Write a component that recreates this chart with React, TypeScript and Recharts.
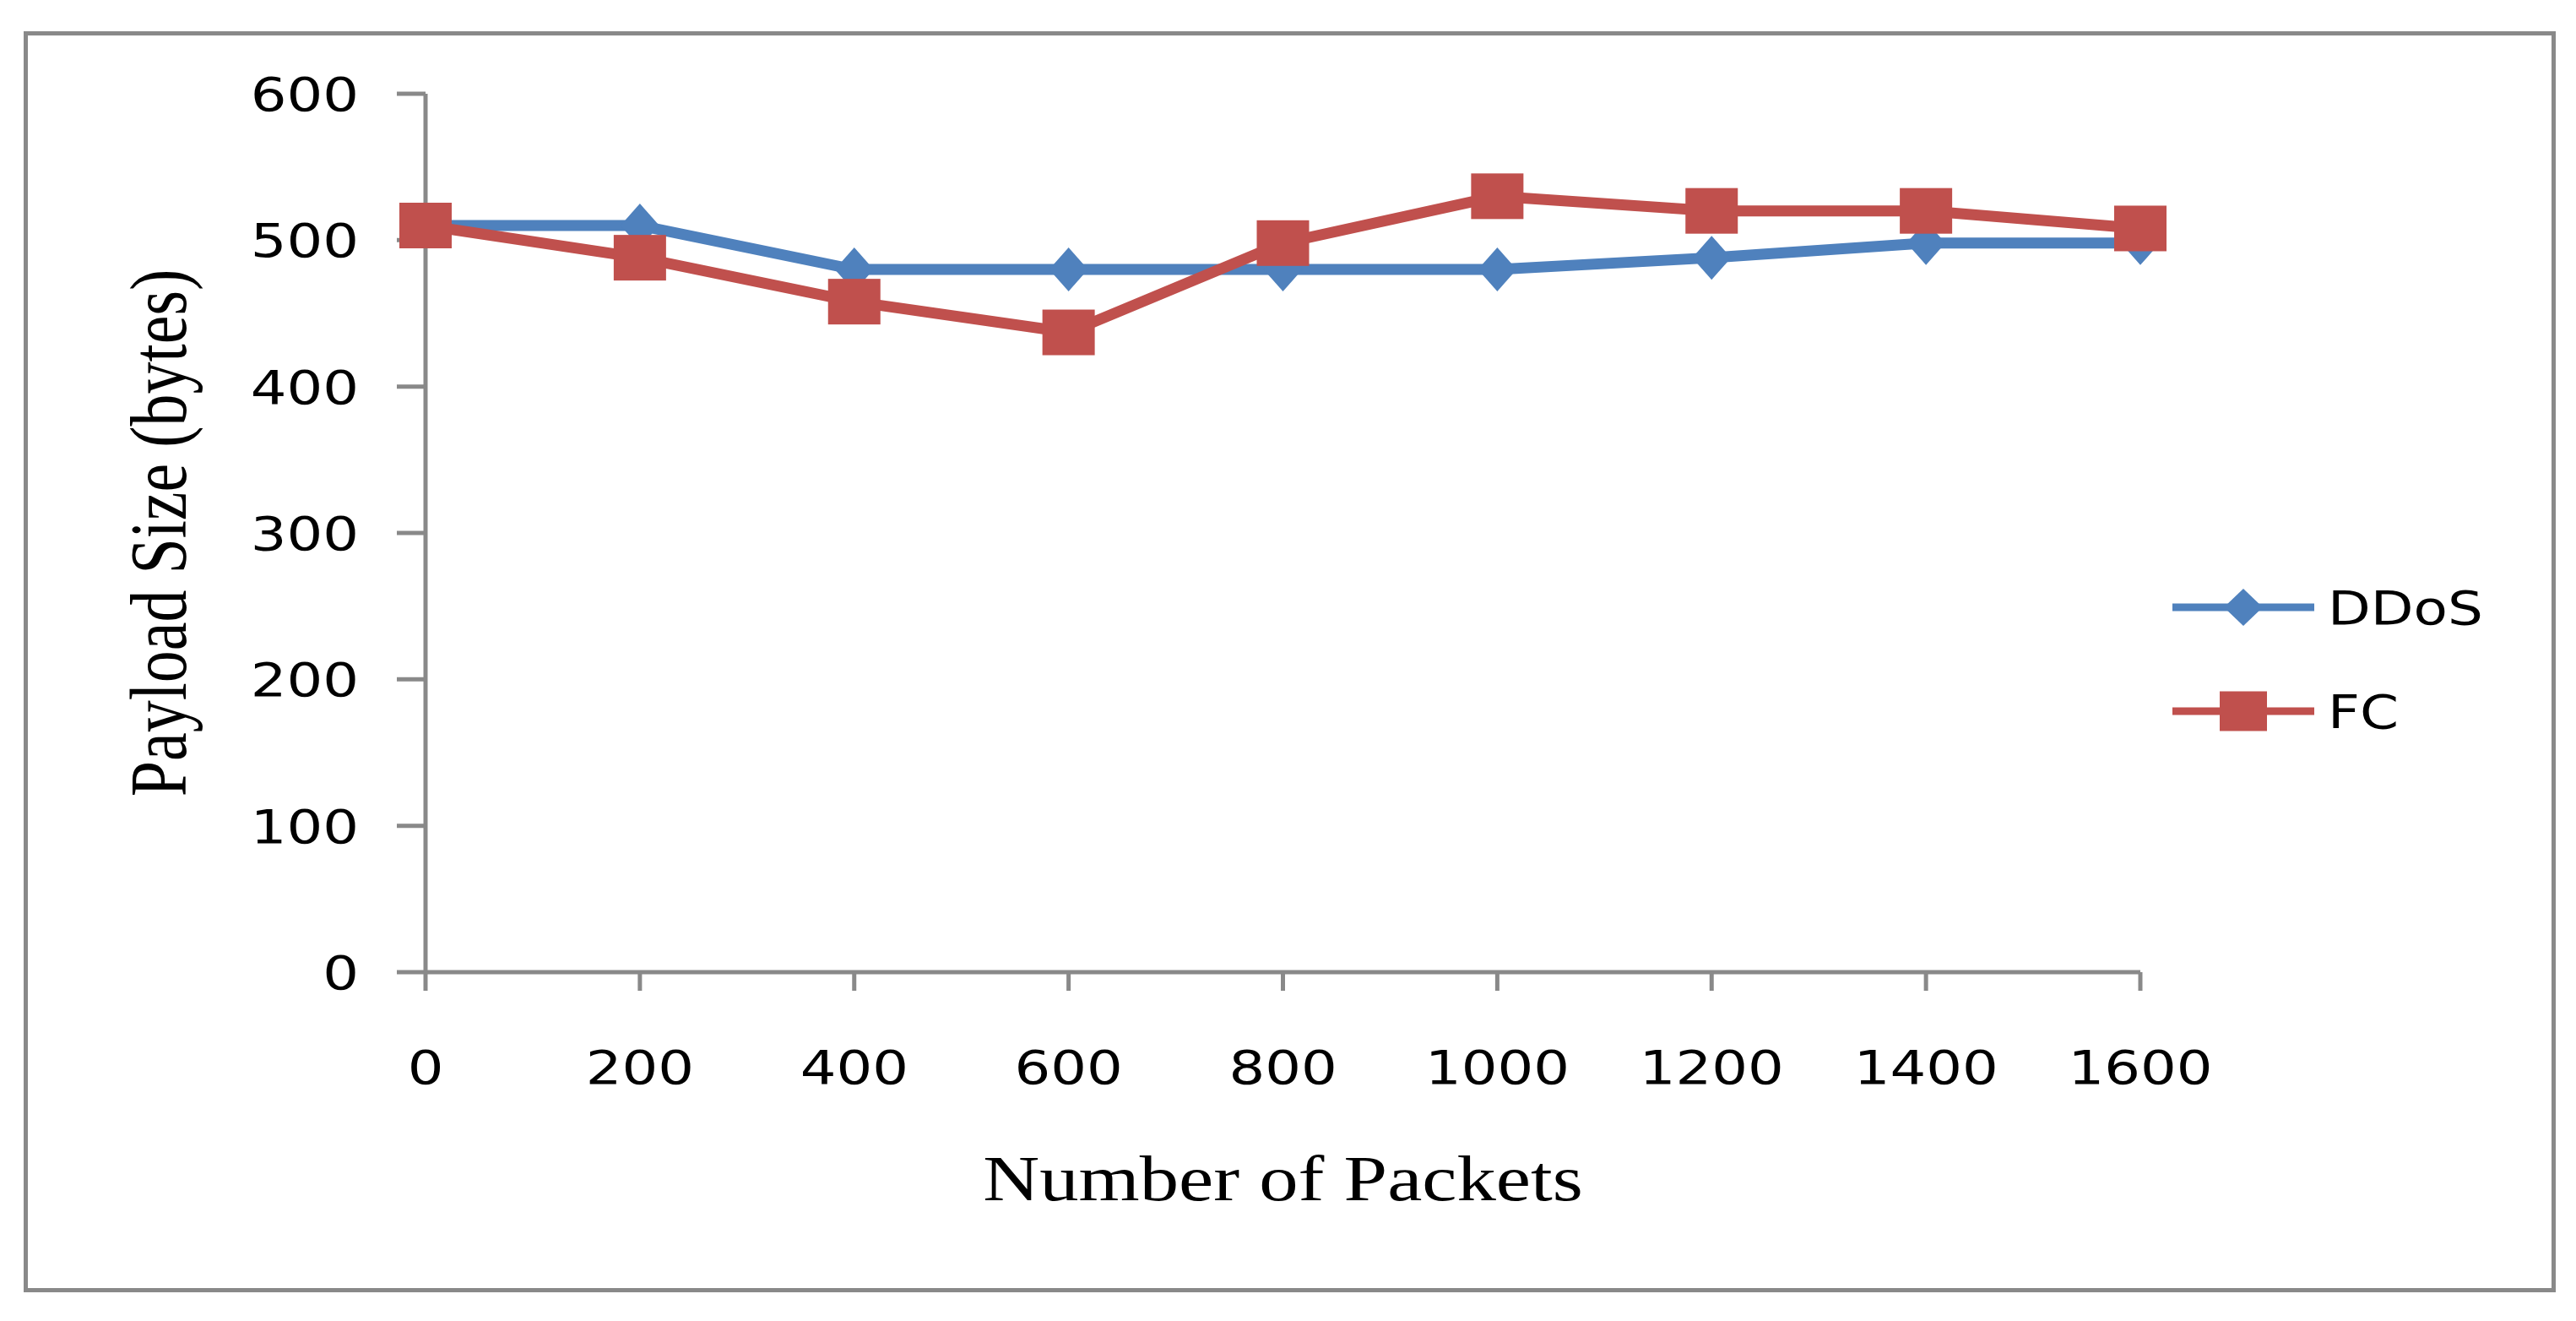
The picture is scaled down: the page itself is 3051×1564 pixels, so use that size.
import { LineChart, Line, XAxis, YAxis, Legend } from 'recharts';

// values
const packets = [0, 200, 400, 600, 800, 1000, 1200, 1400, 1600];
const ddosPayload = [510, 510, 480, 480, 480, 480, 488, 498, 498];
const fcPayload = [510, 488, 458, 437, 498, 530, 520, 520, 508];
const xTicks = [0, 200, 400, 600, 800, 1000, 1200, 1400, 1600];
const yTicks = [0, 100, 200, 300, 400, 500, 600];
const seriesNames = ['DDoS', 'FC'];

const BLUE = '#4F81BD';
const RED = '#C0504D';
const AXIS = '#898989';
const TICK_FONT = '"DejaVu Sans", Verdana, sans-serif';
const TITLE_FONT = '"Liberation Serif", "Times New Roman", serif';
const STRETCH = 1.2; // the original picture is a little wide

const data = packets.map((p, i) => ({ packets: p, ddos: ddosPayload[i], fc: fcPayload[i] }));

const Diamond = ({ cx, cy, fill, hw = 23, hh = 26 }: any) => (
  <polygon points={`${cx},${cy - hh} ${cx + hw},${cy} ${cx},${cy + hh} ${cx - hw},${cy}`} fill={fill} />
);

const Square = ({ cx, cy, fill, w = 62, h = 54 }: any) => (
  <rect x={cx - w / 2} y={cy - h / 2} width={w} height={h} fill={fill} />
);

const renderDiamond = (props: any) => <Diamond key={`dd-${props.index}`} cx={props.cx} cy={props.cy} fill={BLUE} />;
const renderSquare = (props: any) => <Square key={`fc-${props.index}`} cx={props.cx} cy={props.cy} fill={RED} />;

const YTick = ({ x, y, payload }: any) => (
  <text
    transform={`translate(${x},${y + 20}) scale(${STRETCH},1)`}
    textAnchor="end"
    fontFamily={TICK_FONT}
    fontSize={56}
    fill="#000"
  >
    {payload.value}
  </text>
);

const XTick = ({ x, y, payload }: any) => (
  <text
    transform={`translate(${x},${y + 41}) scale(${STRETCH},1)`}
    textAnchor="middle"
    fontFamily={TICK_FONT}
    fontSize={56}
    fill="#000"
  >
    {payload.value}
  </text>
);

const XTitle = ({ viewBox }: any) => (
  <text
    transform={`translate(${viewBox.x + viewBox.width / 2},${viewBox.y + 270}) scale(1.22,1)`}
    textAnchor="middle"
    fontFamily={TITLE_FONT}
    fontSize={76}
    fill="#000"
  >
    Number of Packets
  </text>
);

const YTitle = ({ viewBox }: any) => (
  <text
    transform={`translate(220,${viewBox.y + viewBox.height / 2}) scale(1.24,1) rotate(-90)`}
    textAnchor="middle"
    fontFamily={TITLE_FONT}
    fontSize={76}
    fill="#000"
  >
    Payload Size (bytes)
  </text>
);

const renderLegend = () => (
  <svg width={440} height={240}>
    <line x1={13} x2={181} y1={59} y2={59} stroke={BLUE} strokeWidth={9} />
    <Diamond cx={97} cy={59} fill={BLUE} hw={23} hh={22} />
    <text transform={`translate(197,79) scale(${STRETCH},1)`} fontFamily={TICK_FONT} fontSize={55} fill="#000">
      {seriesNames[0]}
    </text>
    <line x1={13} x2={181} y1={182} y2={182} stroke={RED} strokeWidth={9} />
    <Square cx={97} cy={182} fill={RED} w={56} h={47} />
    <text transform={`translate(197,202) scale(${STRETCH},1)`} fontFamily={TICK_FONT} fontSize={55} fill="#000">
      {seriesNames[1]}
    </text>
  </svg>
);

export default function App() {
  return (
    <div style={{ position: 'absolute', left: 0, top: 0, width: 3051, height: 1564, background: '#fff' }}>
      <div
        style={{
          position: 'absolute',
          left: 28,
          top: 37,
          width: 2999,
          height: 1493,
          border: `5px solid ${AXIS}`,
          boxSizing: 'border-box'
        }}
      />
      <div style={{ position: 'absolute', left: 0, top: 0 }}>
        <LineChart width={3051} height={1564} data={data} margin={{ top: 111, right: 516, left: 0, bottom: 0 }}>
          <XAxis
            dataKey="packets"
            type="number"
            domain={[0, 1600]}
            ticks={xTicks}
            interval={0}
            height={413}
            tickSize={22}
            tickMargin={69}
            axisLine={{ stroke: AXIS, strokeWidth: 5 }}
            tickLine={{ stroke: AXIS, strokeWidth: 5 }}
            tick={<XTick />}
            label={{ content: (p: any) => <XTitle viewBox={p.viewBox} /> }}
          />
          <YAxis
            type="number"
            domain={[0, 600]}
            ticks={yTicks}
            interval={0}
            width={504}
            tickSize={34}
            tickMargin={45}
            axisLine={{ stroke: AXIS, strokeWidth: 5 }}
            tickLine={{ stroke: AXIS, strokeWidth: 5 }}
            tick={<YTick />}
            label={{ content: (p: any) => <YTitle viewBox={p.viewBox} /> }}
          />
          <Legend
            layout="horizontal"
            verticalAlign="middle"
            align="center"
            content={renderLegend}
            wrapperStyle={{ position: 'absolute', left: 2560, top: 660, width: 440, height: 240 }}
          />
          <Line
            name={seriesNames[0]}
            dataKey="ddos"
            type="linear"
            stroke={BLUE}
            strokeWidth={13}
            dot={renderDiamond}
            activeDot={false}
            isAnimationActive={false}
          />
          <Line
            name={seriesNames[1]}
            dataKey="fc"
            type="linear"
            stroke={RED}
            strokeWidth={13}
            dot={renderSquare}
            activeDot={false}
            isAnimationActive={false}
          />
        </LineChart>
      </div>
    </div>
  );
}
